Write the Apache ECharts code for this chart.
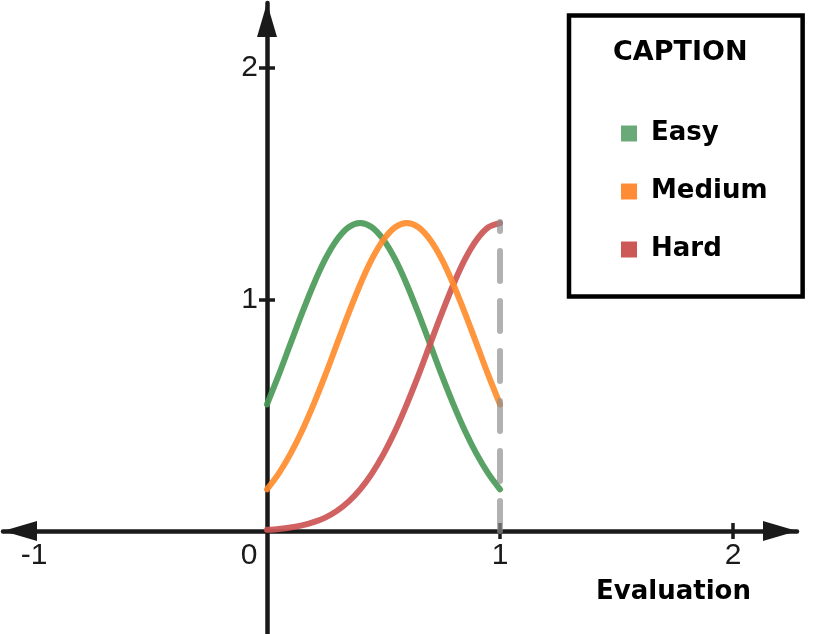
<!DOCTYPE html>
<html><head><meta charset="utf-8">
<script src="https://cdn.jsdelivr.net/npm/echarts@6/dist/echarts.min.js"></script>
<style>html,body{margin:0;padding:0;background:#fff}#c{width:825px;height:634px}</style>
</head><body><div id="c"></div>
<script>
// ---- data ----
const xValues = [0, 0.05, 0.1, 0.15, 0.2, 0.25, 0.3, 0.35, 0.4, 0.45, 0.5, 0.55, 0.6, 0.65, 0.7, 0.75, 0.8, 0.85, 0.9, 0.95, 1];
const easyValues = [0.547, 0.673, 0.807, 0.940, 1.065, 1.174, 1.258, 1.312, 1.330, 1.312, 1.258, 1.174, 1.065, 0.940, 0.807, 0.673, 0.547, 0.432, 0.332, 0.248, 0.180];
const mediumValues = [0.180, 0.248, 0.332, 0.432, 0.547, 0.673, 0.807, 0.940, 1.065, 1.174, 1.258, 1.312, 1.330, 1.312, 1.258, 1.174, 1.065, 0.940, 0.807, 0.673, 0.547];
const hardValues = [0.005, 0.009, 0.015, 0.024, 0.038, 0.058, 0.087, 0.127, 0.180, 0.248, 0.332, 0.432, 0.547, 0.673, 0.807, 0.940, 1.065, 1.174, 1.258, 1.312, 1.330];
const refLineX = [1, 1];
const refLineY = [0, 1.335];
const seriesNames = ['Easy', 'Medium', 'Hard'];
const xTickValues = [1, 2];
const xLabelValues = [-1, 0, 1, 2];
const yTickValues = [1, 2];
const yLabelValues = [1, 2];
const legendTitle = 'CAPTION';
const xAxisName = 'Evaluation';

// ---- styles ----
const AXIS = '#1a1a1a';
const lineColors = {Easy: '#4b9a58', Medium: '#ff8c2c', Hard: '#cc5555'};
const iconColors = {Easy: '#6aaa78', Medium: '#ff8c35', Hard: '#cc5858'};
const LABEL_FONT = 'Liberation Sans, Arial, sans-serif';
const BOLD_FONT = 'DejaVu Sans, Verdana, sans-serif';
const LABEL_SIZE = 30;

const X_MIN = -1.1330, X_MAX = 2.2747;
const Y_MIN = -0.4449, Y_MAX = 2.2808;
const base = {containLabel: false, outerBoundsMode: 'none'};
// grid 0/1: horizontal axis band (bottom edge = y 0); grid 2/3: vertical axis band (left edge = x 0)
const gridX = Object.assign({left: 3, right: 28, top: 3, bottom: 103}, base);
const gridY = Object.assign({left: 267, right: 28, top: 3, bottom: 0}, base);

function pairs(xs, ys) { return xs.map((x, i) => [x, ys[i]]); }

function xAxisCfg(gridIndex, main) {
  return {
    type: 'value', gridIndex, min: X_MIN, max: X_MAX, position: 'bottom',
    splitLine: {show: false},
    axisLine: {show: true, onZero: false,
      symbol: main ? ['triangle', 'triangle'] : 'none', symbolSize: [20, 34], symbolOffset: [17, -17],
      lineStyle: {color: main ? AXIS : 'rgba(0,0,0,0)', width: 4.5}},
    axisTick: {show: true, inside: !main, length: 8, customValues: xTickValues,
      lineStyle: {color: AXIS, width: 3.5}},
    axisLabel: {show: main, customValues: xLabelValues, margin: 10,
      fontSize: LABEL_SIZE, fontFamily: LABEL_FONT, color: AXIS,
      formatter: v => v === 0 ? '{z|0}' : String(v),
      rich: {z: {fontSize: LABEL_SIZE, fontFamily: LABEL_FONT, color: AXIS, padding: [0, 36, 0, 0]}}}
  };
}
function yAxisCfg(gridIndex, main) {
  return {
    type: 'value', gridIndex, min: Y_MIN, max: Y_MAX, position: 'left',
    splitLine: {show: false},
    axisLine: {show: true, onZero: false,
      symbol: main ? ['none', 'triangle'] : 'none', symbolSize: [20, 34], symbolOffset: [0, -17],
      lineStyle: {color: main ? AXIS : 'rgba(0,0,0,0)', width: 4.5}},
    axisTick: {show: true, inside: !main, length: 8, customValues: yTickValues,
      lineStyle: {color: AXIS, width: 3.5}},
    axisLabel: {show: main, customValues: yLabelValues, margin: 9,
      fontSize: LABEL_SIZE, fontFamily: LABEL_FONT, color: AXIS}
  };
}
function hiddenAxis(gridIndex, min, max) {
  return {type: 'value', gridIndex, min, max, show: false, splitLine: {show: false}};
}

function curve(name, ys, z) {
  return {
    name, type: 'line', xAxisIndex: 0, yAxisIndex: 0, clip: false,
    data: pairs(xValues, ys), smooth: 0.3, showSymbol: false, symbol: 'none', z,
    lineStyle: {color: lineColors[name], width: 6, opacity: 0.92, cap: 'round'},
    itemStyle: {color: iconColors[name]},
    emphasis: {disabled: true}
  };
}

const chart = echarts.init(document.getElementById('c'), null, {renderer: 'canvas'});
chart.setOption({
  animation: false,
  backgroundColor: '#fff',
  grid: [Object.assign({}, gridX), Object.assign({}, gridX), Object.assign({}, gridY), Object.assign({}, gridY)],
  xAxis: [xAxisCfg(0, true), xAxisCfg(1, false), hiddenAxis(2, 0, 1), hiddenAxis(3, 0, 1)],
  yAxis: [hiddenAxis(0, 0, Y_MAX), hiddenAxis(1, 0, Y_MAX), yAxisCfg(2, true), yAxisCfg(3, false)],
  title: [
    {text: legendTitle, left: 613, top: 39, padding: 0,
     textStyle: {fontFamily: BOLD_FONT, fontWeight: 'bold', fontSize: 27, color: '#000'}},
    {text: xAxisName, left: 596, top: 579, padding: 0,
     textStyle: {fontFamily: BOLD_FONT, fontWeight: 'bold', fontSize: 26, color: '#000'}}
  ],
  legend: {
    orient: 'vertical', left: 569, top: 15.5,
    padding: [103, 35, 32, 52],
    borderColor: '#000', borderWidth: 4.5, backgroundColor: '#fff',
    itemWidth: 16, itemHeight: 16, itemGap: 28, icon: 'rect',
    selectedMode: false,
    data: seriesNames.map(n => ({name: n, itemStyle: {color: iconColors[n]}})),
    formatter: n => '{t|' + n + '}',
    textStyle: {fontFamily: BOLD_FONT, fontWeight: 'bold', fontSize: 26, color: '#000', lineHeight: 30,
      rich: {t: {fontFamily: BOLD_FONT, fontWeight: 'bold', fontSize: 26, color: '#000', lineHeight: 30, padding: [0, 0, 0, 9]}}}
  },
  series: [
    curve('Easy', easyValues, 3),
    curve('Hard', hardValues, 4),
    curve('Medium', mediumValues, 5),
    {name: 'ref', type: 'line', xAxisIndex: 0, yAxisIndex: 0, data: pairs(refLineX, refLineY), clip: false,
     showSymbol: false, symbol: 'none', z: 6, emphasis: {disabled: true},
     lineStyle: {color: 'rgba(140,140,140,0.68)', width: 6, type: [30, 20], cap: 'round'}}
  ]
});
</script>
</body></html>
